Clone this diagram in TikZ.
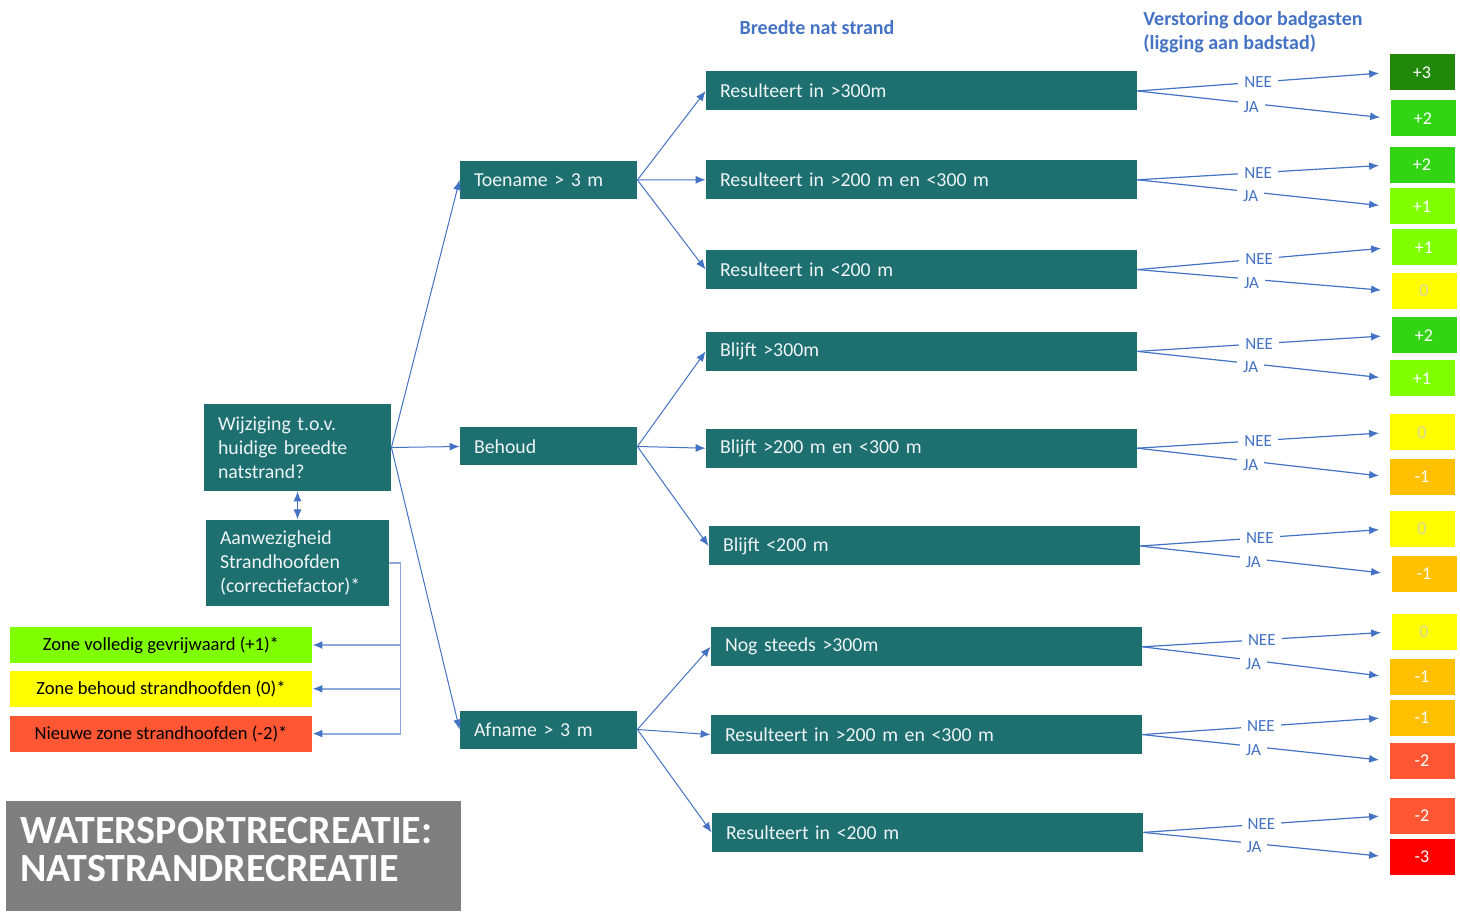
\documentclass[tikz,border=0pt]{standalone}
\usepackage{fontspec}
\setmainfont{Carlito}
\usepackage{tikz}
\usetikzlibrary{positioning}
\usetikzlibrary{arrows.meta}
\tikzset{>={Latex[width=4pt,length=5pt]}}
\definecolor{boxteal}{RGB}{30,111,112}
\definecolor{linkblue}{RGB}{68,114,196}
\definecolor{busblue}{RGB}{142,169,219}
\definecolor{titlegray}{RGB}{127,127,127}
\definecolor{scp3}{RGB}{34,136,12}
\definecolor{scp2}{RGB}{51,212,20}
\definecolor{scp1}{RGB}{128,255,0}
\definecolor{scz}{RGB}{255,255,0}
\definecolor{scm1}{RGB}{255,192,0}
\definecolor{scm2}{RGB}{255,87,51}
\definecolor{scm3}{RGB}{255,0,0}
\definecolor{zerotext}{RGB}{215,215,160}

\begin{document}
\begin{tikzpicture}[x=0.5pt, y=-0.5pt, tealnode/.style={fill=boxteal, text=white!92!boxteal, font=\fontsize{9.9}{12}\selectfont, align=left, inner xsep=7pt, inner ysep=0pt}, widenode/.style={tealnode, text width=201.5pt, minimum height=19.5pt}, midnode/.style={tealnode, text width=74.5pt, minimum height=19pt}, bignode/.style={tealnode, text width=79.5pt, minimum height=43.5pt}, scorenode/.style={minimum width=32.5pt, minimum height=18pt, inner sep=0pt, text=white, font=\fontsize{9}{11}\selectfont}, zeronode/.style={scorenode, fill=scz, text=zerotext}, zonenode/.style={minimum width=151pt, minimum height=18pt, inner sep=0pt, font=\fontsize{9.3}{11}\selectfont}, headnode/.style={text=linkblue, font=\bfseries\fontsize{10}{12}\selectfont}, titlenode/.style={fill=titlegray, text=white, font=\bfseries\fontsize{20}{19}\selectfont, align=left, text width=213.5pt, inner xsep=7pt, minimum height=55pt, text height=7pt}, neenode/.style={fill=white, inner xsep=3pt, inner ysep=0.6pt, text=linkblue, font=\fontsize{8.5}{9}\selectfont, pos=0.48}, janode/.style={neenode, pos=0.45, yshift=-2pt}, link/.style={->, draw=linkblue, line width=0.5pt}, scorelink/.style={->, draw=linkblue, line width=0.6pt, shorten >=5pt}, bus/.style={draw=busblue, line width=0.9pt, -{Latex[width=4pt,length=5pt,color=linkblue]}}]
    \useasboundingbox (0,0) rectangle (1460,913);

    %Nodes
    \node[headnode](breedte) at (817,28){Breedte nat strand};
    \node[headnode, align=left, anchor=west, inner sep=0pt](verstoring) at (1143,32){Verstoring door badgasten\\(ligging aan badstad)};

    \node[bignode](wijziging) at (297.5,447.5){Wijziging t.o.v.\\huidige breedte\\natstrand?};
    \node[bignode, text width=77.5pt, minimum height=43pt](aanwezig)[below=14pt of wijziging]{Aanwezigheid\\Strandhoofden\\(correctiefactor)*};

    \node[zonenode, fill=scp1](zone_plus) at (161,645){Zone volledig gevrijwaard (+1)*};
    \node[zonenode, fill=scz](zone_nul)[below=3.5pt of zone_plus]{Zone behoud strandhoofden (0)*};
    \node[zonenode, fill=scm2](zone_min)[below=4pt of zone_nul]{Nieuwe zone strandhoofden (-2)*};

    \node[midnode](toename) at (548.5,180){Toename > 3 m};
    \node[midnode](behoud) at (548.5,446.5){Behoud};
    \node[midnode](afname) at (548.5,729.5){Afname > 3 m};

    \node[widenode](toe_300) at (921.5,91){Resulteert in >300m};
    \node[widenode](toe_200)[below=24.5pt of toe_300]{Resulteert in >200 m en <300 m};
    \node[widenode](toe_lt200)[below=25pt of toe_200]{Resulteert in <200 m};
    \node[widenode](beh_300)[below=21pt of toe_lt200]{Blijft >300m};
    \node[widenode](beh_200)[below=28.5pt of beh_300]{Blijft >200 m en <300 m};
    \node[widenode](beh_lt200)[below=29pt of beh_200, xshift=1.5pt]{Blijft <200 m};
    \node[widenode](af_300)[below=30.5pt of beh_lt200, xshift=1pt]{Nog steeds >300m};
    \node[widenode](af_200)[below=24pt of af_300]{Resulteert in >200 m en <300 m};
    \node[widenode](af_lt200)[below=29pt of af_200, xshift=0.5pt]{Resulteert in <200 m};

    \node[scorenode, fill=scp3](toe300_nee) at (1422,72.5){+3};
    \node[scorenode, fill=scp2](toe300_ja) at (1423,118.5){+2};
    \node[scorenode, fill=scp2](toe200_nee) at (1422,165){+2};
    \node[scorenode, fill=scp1](toe200_ja) at (1422,206.5){+1};
    \node[scorenode, fill=scp1](toelt200_nee) at (1424,247.5){+1};
    \node[zeronode](toelt200_ja) at (1424,291){0};
    \node[scorenode, fill=scp2](beh300_nee) at (1424,335.5){+2};
    \node[scorenode, fill=scp1](beh300_ja) at (1422,378.5){+1};
    \node[zeronode](beh200_nee) at (1422,432.5){0};
    \node[scorenode, fill=scm1](beh200_ja) at (1422,477){-1};
    \node[zeronode](behlt200_nee) at (1422,529){0};
    \node[scorenode, fill=scm1](behlt200_ja) at (1424,574){-1};
    \node[zeronode](af300_nee) at (1424,632){0};
    \node[scorenode, fill=scm1](af300_ja) at (1422,677){-1};
    \node[scorenode, fill=scm1](af200_nee) at (1422,717.5){-1};
    \node[scorenode, fill=scm2](af200_ja) at (1422,761){-2};
    \node[scorenode, fill=scm2](aflt200_nee) at (1422,815.5){-2};
    \node[scorenode, fill=scm3](aflt200_ja) at (1422,857){-3};

    \node[titlenode](title) at (233.5,856){WATERSPORTRECREATIE:\\NATSTRANDRECREATIE};

    %Lines
    \draw[link] (wijziging.east) -- (toename.west);
    \draw[link] (wijziging.east) -- (behoud.west);
    \draw[link] (wijziging.east) -- (afname.west);
    \draw[link, <->] (wijziging.south) -- (aanwezig.north);
    \draw[bus] (aanwezig.east) -- ++(11,0) |- (zone_plus.east);
    \draw[bus] (aanwezig.east) -- ++(11,0) |- (zone_nul.east);
    \draw[bus] (aanwezig.east) -- ++(11,0) |- (zone_min.east);

    \draw[link] (toename.east) -- (toe_300.west);
    \draw[link] (toename.east) -- (toe_200.west);
    \draw[link] (toename.east) -- (toe_lt200.west);
    \draw[link] (behoud.east) -- (beh_300.west);
    \draw[link] (behoud.east) -- (beh_200.west);
    \draw[link] (behoud.east) -- (beh_lt200.west);
    \draw[link] (afname.east) -- (af_300.west);
    \draw[link] (afname.east) -- (af_200.west);
    \draw[link] (afname.east) -- (af_lt200.west);

    \draw[scorelink] (toe_300.east) -- node[neenode]{NEE} (toe300_nee.west);
    \draw[scorelink] (toe_300.east) -- node[janode]{JA} (toe300_ja.west);
    \draw[scorelink] (toe_200.east) -- node[neenode]{NEE} (toe200_nee.west);
    \draw[scorelink] (toe_200.east) -- node[janode]{JA} (toe200_ja.west);
    \draw[scorelink] (toe_lt200.east) -- node[neenode]{NEE} (toelt200_nee.west);
    \draw[scorelink] (toe_lt200.east) -- node[janode]{JA} (toelt200_ja.west);
    \draw[scorelink] (beh_300.east) -- node[neenode]{NEE} (beh300_nee.west);
    \draw[scorelink] (beh_300.east) -- node[janode]{JA} (beh300_ja.west);
    \draw[scorelink] (beh_200.east) -- node[neenode]{NEE} (beh200_nee.west);
    \draw[scorelink] (beh_200.east) -- node[janode]{JA} (beh200_ja.west);
    \draw[scorelink] (beh_lt200.east) -- node[neenode]{NEE} (behlt200_nee.west);
    \draw[scorelink] (beh_lt200.east) -- node[janode]{JA} (behlt200_ja.west);
    \draw[scorelink] (af_300.east) -- node[neenode]{NEE} (af300_nee.west);
    \draw[scorelink] (af_300.east) -- node[janode]{JA} (af300_ja.west);
    \draw[scorelink] (af_200.east) -- node[neenode]{NEE} (af200_nee.west);
    \draw[scorelink] (af_200.east) -- node[janode]{JA} (af200_ja.west);
    \draw[scorelink] (af_lt200.east) -- node[neenode]{NEE} (aflt200_nee.west);
    \draw[scorelink] (af_lt200.east) -- node[janode]{JA} (aflt200_ja.west);

\end{tikzpicture}
\end{document}
